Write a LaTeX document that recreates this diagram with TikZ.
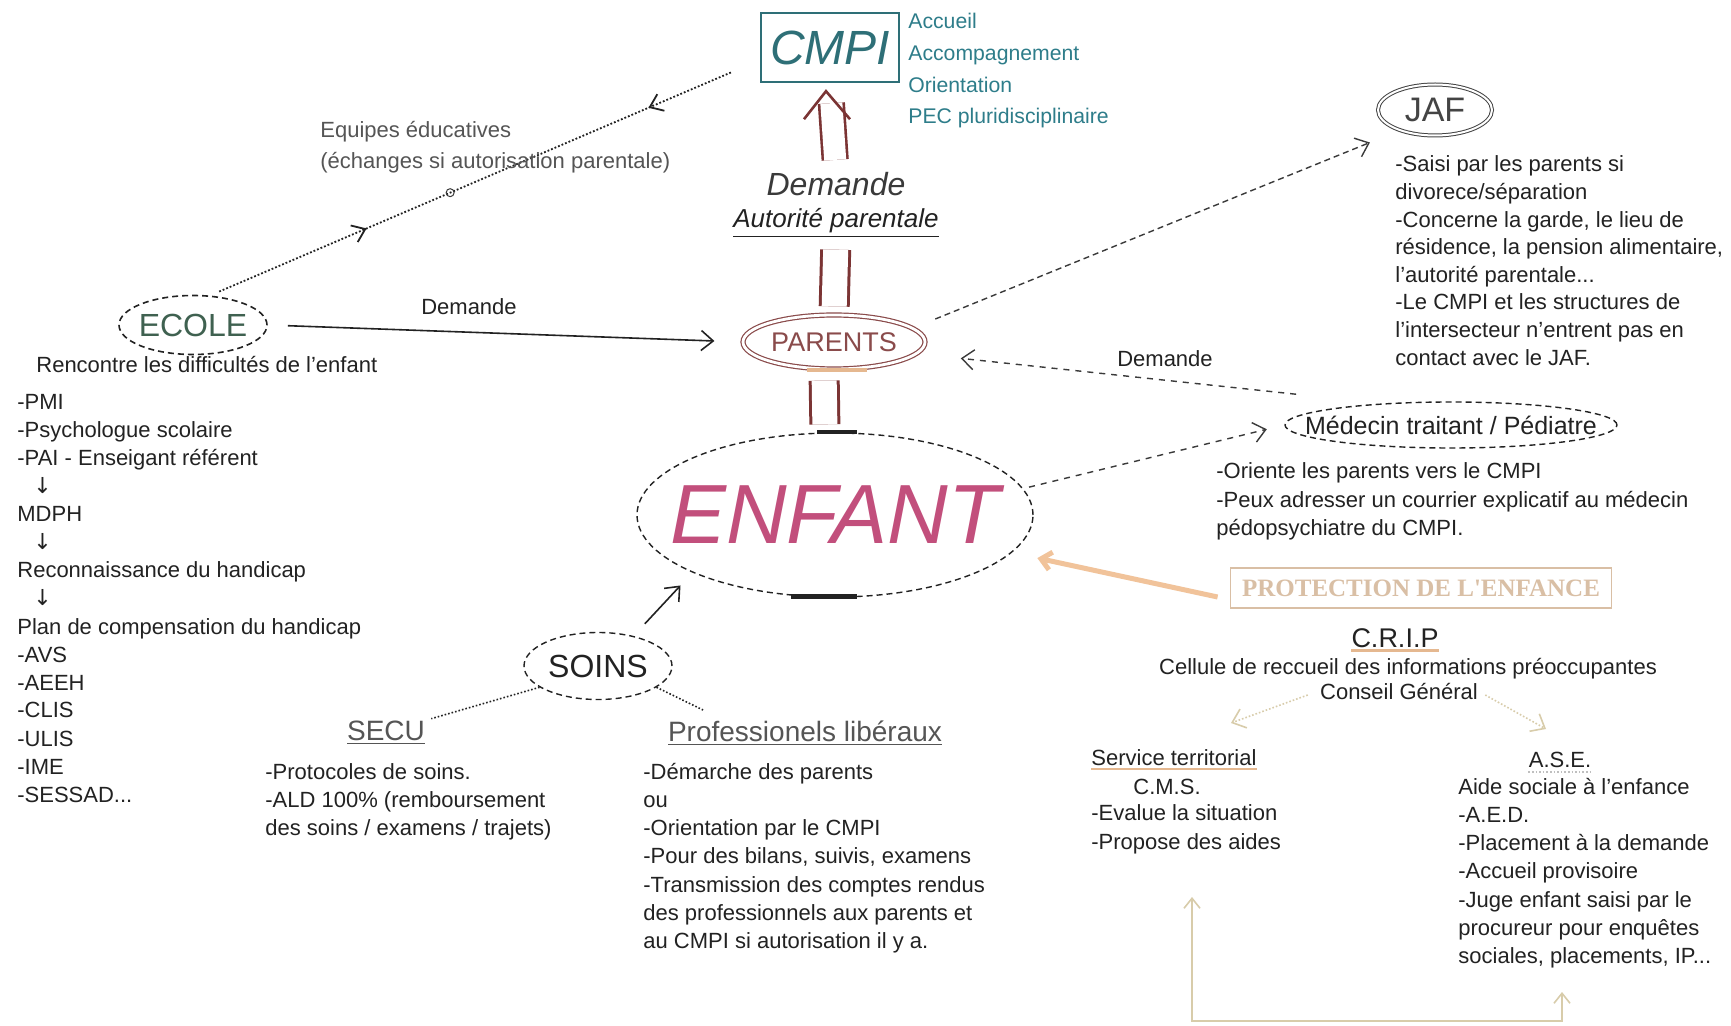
\documentclass[tikz,border=0pt]{standalone}
\usepackage{fontspec}
\setmainfont{Liberation Sans}
\newfontfamily\serifbf{Liberation Serif}
\newfontfamily\symfont{DejaVu Sans}
\usetikzlibrary{shapes.geometric,arrows.meta,decorations.markings,calc}
\newcommand\mydots{...}
\definecolor{ink}{HTML}{222222}
\definecolor{ink2}{HTML}{3A3A3A}
\definecolor{tealA}{HTML}{2E6F77}
\definecolor{tealB}{HTML}{2E7D8A}
\definecolor{dred}{HTML}{7B3434}
\definecolor{brownP}{HTML}{8A4B4B}
\definecolor{pinkE}{HTML}{C24F7C}
\definecolor{greenE}{HTML}{3F6150}
\definecolor{tanP}{HTML}{D9BFA5}
\definecolor{tanA}{HTML}{F1C39A}
\definecolor{tanU}{HTML}{E5B890}
\definecolor{tanL}{HTML}{D8CCAA}
\definecolor{grayT}{HTML}{555555}
\definecolor{grayJ}{HTML}{444444}
\begin{document}
\begin{tikzpicture}[x=0.5pt,y=-0.5pt,
  txt/.style={font=\fontsize{11}{14}\selectfont, text=ink, inner sep=0pt, anchor=base west},
  ctxt/.style={font=\fontsize{11}{14}\selectfont, text=ink, inner sep=0pt},
  ell/.style={ellipse, inner sep=0pt, draw=ink, line width=0.7pt, densely dashed},
  arr/.style={-{Straight Barb[length=6pt,width=10pt]}},
  bars/.style={dred, line width=1.5pt, double distance=12.5pt}]
\fill[white] (0,0) rectangle (1731,1026);
\useasboundingbox (0,0) rectangle (1731,1026);

% ---------- CMPI ----------
\node[draw=tealA, line width=1.2pt, minimum width=69pt, minimum height=34.5pt, inner sep=0pt,
      font=\fontsize{24}{24}\selectfont\itshape, text=tealA] (cmpi) at (830,47.5) {CMPI};
\foreach \t [count=\i from 0] in {Accueil, Accompagnement, Orientation, PEC pluridisciplinaire}
  \node[txt, text=tealB, font=\fontsize{10.6}{13}\selectfont] (cmpitxt\i) at (908,29+31.6*\i) {\t};

\node[inner sep=0pt, font=\fontsize{16}{16}\selectfont\itshape, text=ink2] (dem) at (836,184) {Demande};
\node[inner sep=0pt, font=\fontsize{13}{13}\selectfont\itshape, text=ink] (auto) at (836,223) {\underline{Autorité parentale}};
\draw[dred, line width=1.3pt, double distance=11pt, shorten <=6pt, shorten >=10pt] (dem.north) -- (cmpi.south);
\draw[dred, line width=1.3pt, line join=miter] ([shift={(-26,36)}]cmpi.south) -- ([shift={(-4,8)}]cmpi.south) -- ([shift={(20,36)}]cmpi.south);

% ---------- PARENTS / ENFANT ----------
\node[ellipse, inner sep=0pt, draw=brownP, line width=0.6pt, double, double distance=1.4pt,
      minimum width=91pt, minimum height=27pt] (parents) at (834,342) {};
\node[inner sep=0pt, font=\fontsize{13.5}{13.5}\selectfont, text=brownP] (parentstxt) at (parents) {PARENTS};
\draw[tanU, line width=2pt] ([xshift=-13.5pt]parents.south) -- ([xshift=16.5pt]parents.south);

\node[ell, minimum width=198pt, minimum height=82pt] (enfant) at (835,515) {};
\node[inner sep=0pt, font=\fontsize{42}{42}\selectfont\itshape, text=pinkE] (enfanttxt) at (enfant) {ENFANT};
\draw[ink, line width=1.8pt] ([xshift=-9pt]enfant.north) -- ([xshift=11pt]enfant.north);
\draw[ink, line width=2.2pt] ([xshift=-22pt,yshift=0.5pt]enfant.south) -- ([xshift=11pt,yshift=0.5pt]enfant.south);

\draw[bars, shorten <=6pt, shorten >=4pt] (auto.south) -- (parents.north);
\draw[bars, shorten <=5.5pt, shorten >=4pt] ([xshift=-5pt]parents.south) -- ([xshift=-5pt]enfant.north);

% ---------- ECOLE ----------
\node[ell, line width=0.8pt, minimum width=74pt, minimum height=29.5pt] (ecole) at (193,325) {};
\node[inner sep=0pt, font=\fontsize{16}{16}\selectfont, text=greenE] (ecoletxt) at (ecole) {ECOLE};
\coordinate (cmpiL) at (732,72);
\draw[ink, densely dotted, line width=0.9pt, shorten <=5pt, postaction={decorate},
  decoration={markings,
    mark=at position 0.3 with {\arrow[solid]{Straight Barb[length=6pt,width=9pt]}},
    mark=at position 0.84 with {\arrowreversed[solid]{Straight Barb[length=6pt,width=9pt]}}}]
  (ecole.60) -- (cmpiL);
\node[circle, draw=ink2, inner sep=0pt, minimum size=4pt, line width=0.5pt] (blob) at ($(ecole.60)!0.46!(cmpiL)$) {};
\node[txt, text=grayT] (equip1) at (320,138) {Equipes éducatives};
\node[txt, text=grayT] (equip2) at (320,169) {(échanges si autorisation parentale)};

\draw[ink, line width=0.8pt, arr, shorten <=10pt, shorten >=14pt] (ecole.east) -- (parents.west);
\node[ctxt] (demL) at (469,307) {Demande};
\node[txt] (renc) at (36,373) {Rencontre les difficultés de l'enfant};

\foreach \t [count=\i from 0] in {{-PMI},{-Psychologue scolaire},{-PAI - Enseigant référent},
    {\hspace*{8pt}\symfont ↓},{MDPH},{\hspace*{8pt}\symfont ↓},{Reconnaissance du handicap},
    {\hspace*{8pt}\symfont ↓},{Plan de compensation du handicap},{-AVS},{-AEEH},{-CLIS},{-ULIS},{-IME},{-SESSAD\mydots}}
  \node[txt] (left\i) at (17,410+28*\i) {\t};

% ---------- JAF ----------
\node[ellipse, inner sep=0pt, draw=grayJ, line width=0.5pt, double, double distance=1pt,
      minimum width=57pt, minimum height=25.5pt] (jaf) at (1435,110) {};
\node[inner sep=0pt, font=\fontsize{17}{17}\selectfont, text=grayJ] (jaftxt) at (jaf) {JAF};
\draw[ink2, densely dashed, line width=0.7pt, arr, shorten <=12pt, shorten >=16pt] (parents.10) -- (jaf.210);
\foreach \t [count=\i from 0] in {{-Saisi par les parents si},{divorece/séparation},{-Concerne la garde, le lieu de},
    {résidence, la pension alimentaire,},{l'autorité parentale\mydots},{-Le CMPI et les structures de},
    {l'intersecteur n'entrent pas en},{contact avec le JAF.}}
  \node[txt] (jafl\i) at (1395,172+27.6*\i) {\t};

% ---------- Medecin ----------
\node[ell, minimum width=166pt, minimum height=23pt] (medecin) at (1451,425) {};
\node[inner sep=0pt, font=\fontsize{12.5}{12.5}\selectfont, text=ink] (medtxt) at (medecin) {Médecin traitant / Pédiatre};
\draw[ink2, dashed, line width=0.7pt, arr, shorten >=22pt] ([shift={(-37,-14)}]medecin.north west) -- (parents.-8);
\node[ctxt] (demR) at (1165,359) {Demande};
\draw[ink2, dashed, line width=0.7pt, arr, shorten <=3pt, shorten >=9pt] (enfant.8) -- (medecin.west);
\foreach \t [count=\i from 0] in {{-Oriente les parents vers le CMPI},{-Peux adresser un courrier explicatif au médecin},
    {pédopsychiatre du CMPI.}}
  \node[txt] (medl\i) at (1216,479+28.5*\i) {\t};

% ---------- SOINS ----------
\node[ell, minimum width=74pt, minimum height=33.5pt] (soins) at (598,666) {};
\node[inner sep=0pt, font=\fontsize{16}{16}\selectfont, text=ink] (soinstxt) at (soins) {SOINS};
\draw[ink, line width=0.8pt, arr] ([shift={(-6,-18)}]soins.north east) -- ([shift={(-14,12)}]enfant.south west);
\node[inner sep=0pt, font=\fontsize{14}{14}\selectfont, text=grayT] (secu) at (386,733) {\underline{SECU}};
\node[inner sep=0pt, font=\fontsize{14}{14}\selectfont, text=grayT] (prof) at (805,733) {\underline{Professionels libéraux}};
\coordinate (profEnd) at (703,710);
\draw[ink, densely dotted, line width=0.8pt] (soins.200) -- ([shift={(6,-2)}]secu.north east);
\draw[ink, densely dotted, line width=0.8pt] (soins.-20) -- (profEnd);
\foreach \t [count=\i from 0] in {{-Protocoles de soins.},{-ALD 100\% (remboursement},{des soins / examens / trajets)}}
  \node[txt] (secul\i) at (265,779+28*\i) {\t};
\foreach \t [count=\i from 0] in {{-Démarche des parents},{ou},{-Orientation par le CMPI},{-Pour des bilans, suivis, examens},
    {-Transmission des comptes rendus},{des professionnels aux parents et},{au CMPI si autorisation il y a.}}
  \node[txt] (profl\i) at (643,779+28.3*\i) {\t};

% ---------- Protection de l'enfance ----------
\node[draw=tanP, line width=0.9pt, minimum width=190.5pt, minimum height=20pt, inner sep=0pt,
      font=\serifbf\fontsize{12.5}{12.5}\selectfont\bfseries, text=tanP] (prot) at (1421,588) {PROTECTION DE L'ENFANCE};
\draw[tanA, line width=2.5pt, -{Straight Barb[length=5pt,width=9pt]}, shorten >=13pt] ([shift={(-12,9)}]prot.west) -- (enfant.-12);
\node[inner sep=0pt, font=\fontsize{13.5}{13.5}\selectfont, text=ink] (crip) at (1395,638) {C.R.I.P};
\draw[tanU, line width=1.5pt] ([yshift=-1.5pt]crip.south west) -- ([yshift=-1.5pt]crip.south east);
\node[ctxt] (cellule) at (1408,669) {Cellule de reccueil des informations préoccupantes};
\node[ctxt] (conseil) at (1399,692) {Conseil Général};
\coordinate (svcArr) at (1231,723);
\coordinate (aseArr) at (1546,729);
\draw[tanL, densely dotted, line width=0.8pt, -{Straight Barb[length=6pt,width=10pt]}] ([xshift=-6pt,yshift=-1.5pt]conseil.west) -- (svcArr);
\draw[tanL, densely dotted, line width=0.8pt, -{Straight Barb[length=6pt,width=10pt]}] ([xshift=3.5pt,yshift=-1.5pt]conseil.east) -- (aseArr);

\node[txt] (svc) at (1091,765) {Service territorial};
\draw[tanU, line width=0.9pt] ([yshift=-2pt]svc.base west) -- ([yshift=-2pt]svc.base east);
\node[txt] (cms) at (1133,794) {C.M.S.};
\node[txt] (eval) at (1091,820) {-Evalue la situation};
\node[txt] (prop) at (1091,849) {-Propose des aides};

\node[ctxt] (ase) at (1560,760) {A.S.E.};
\draw[gray!50, densely dotted, line width=0.8pt] ([yshift=-2pt]ase.south west) -- ([yshift=-2pt]ase.south east);
\foreach \t [count=\i from 0] in {{Aide sociale à l'enfance},{-A.E.D.},{-Placement à la demande},{-Accueil provisoire},
    {-Juge enfant saisi par le},{procureur pour enquêtes},{sociales, placements, IP\mydots}}
  \node[txt] (asel\i) at (1458,794+28.3*\i) {\t};

% ---------- bottom bracket ----------
\coordinate (bkL) at (1192,897);
\coordinate (bkLb) at (1192,1021);
\coordinate (bkRb) at (1562,1021);
\coordinate (bkR) at (1562,992);
\draw[tanL, line width=0.8pt, {Straight Barb[length=5pt,width=8pt]}-{Straight Barb[length=5pt,width=8pt]}]
  (bkL) -- (bkLb) -- (bkRb) -- (bkR);
\end{tikzpicture}
\end{document}
